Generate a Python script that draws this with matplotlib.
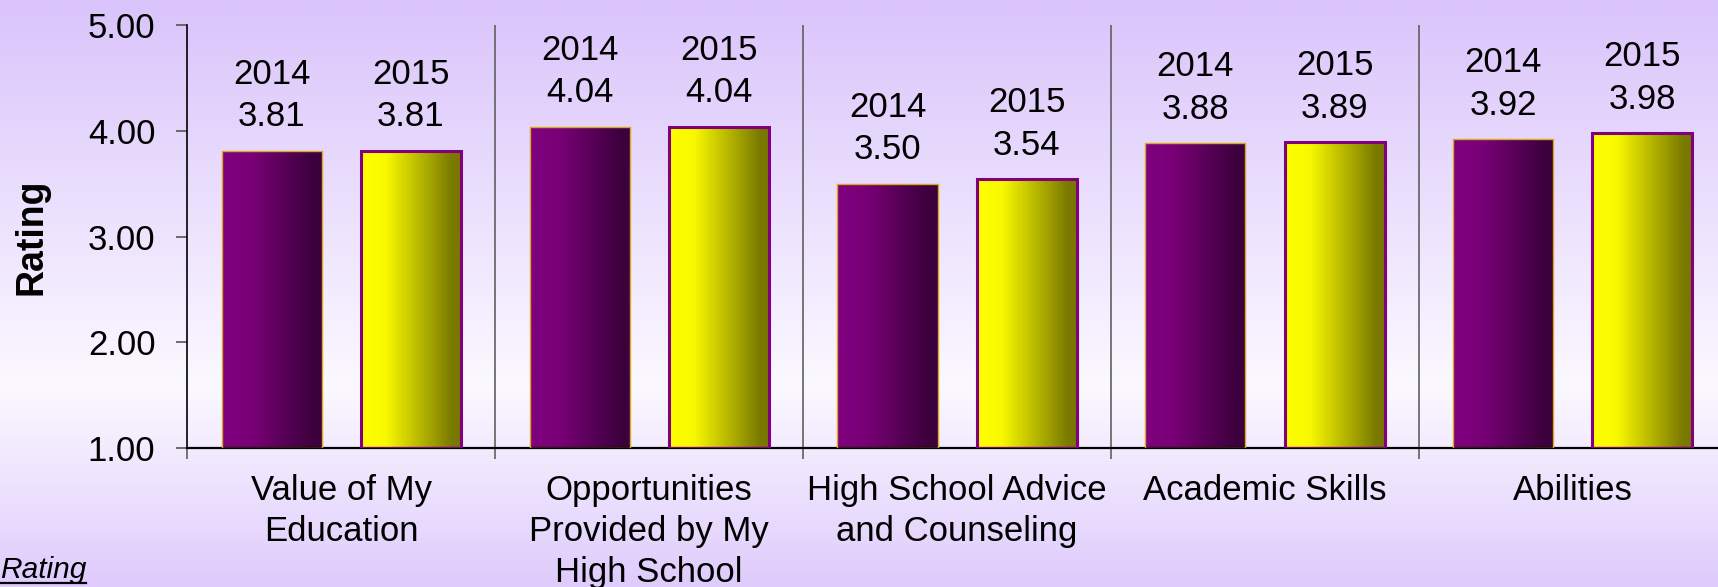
import numpy as np
import matplotlib.pyplot as plt
from matplotlib.colors import LinearSegmentedColormap
from matplotlib.lines import Line2D

plt.rcParams['font.family'] = ['Liberation Sans', 'DejaVu Sans']

# data
categories = ['Value of My\nEducation', 'Opportunities\nProvided by My\nHigh School',
              'High School Advice\nand Counseling', 'Academic Skills', 'Abilities']
years = ['2014', '2015']
rating_2014 = [3.81, 4.04, 3.50, 3.88, 3.92]
rating_2015 = [3.81, 4.04, 3.54, 3.89, 3.98]
y_ticks = [1.0, 2.0, 3.0, 4.0, 5.0]

fig = plt.figure(figsize=(17.18, 5.87), dpi=100)

# lavender page background
bg = fig.add_axes([0, 0, 1, 1], zorder=-1)
bg_cmap = LinearSegmentedColormap.from_list(
    'bg', [(0.0, '#dac4fb'), (0.66, '#fbf9ff'), (1.0, '#dfcbfc')])
bg.imshow(np.linspace(0, 1, 256).reshape(-1, 1), cmap=bg_cmap, aspect='auto',
          extent=[0, 1, 0, 1], origin='upper')
bg.axis('off')

ax = fig.add_axes([0.1091, 0.2368, 0.896, 0.7206])
ax.set_facecolor('none')

purple_cmap = LinearSegmentedColormap.from_list(
    'pur', [(0.0, '#800080'), (0.3, '#780076'), (0.9, '#3d003d'), (1.0, '#3c003c')])
yellow_cmap = LinearSegmentedColormap.from_list(
    'yel', [(0.0, '#ffff00'), (0.25, '#f8f800'), (0.9, '#7a7a00'), (1.0, '#787800')])
grad = np.linspace(0, 1, 256).reshape(1, -1)

x = np.arange(len(categories))
width = 0.325
offset = 0.226
fs = 25

series = [(rating_2014, -offset, purple_cmap, '#d8a820', 1.0),
          (rating_2015, offset, yellow_cmap, '#800080', 2.2)]

for (vals, off, cmap, edge, lw), year in zip(series, years):
    bars = ax.bar(x + off, np.array(vals) - 1.0, width, bottom=1.0,
                  facecolor='none', edgecolor=edge, linewidth=lw, zorder=3)
    for b, v in zip(bars, vals):
        x0 = b.get_x()
        im = ax.imshow(grad, cmap=cmap, aspect='auto', zorder=2,
                       extent=[x0, x0 + b.get_width(), 1.0, v])
        im.set_clip_path(b)
        ax.annotate(f'{year}\n{v:.2f}', (b.get_x() + b.get_width() / 2, v),
                    xytext=(0, 12.5), textcoords='offset points',
                    ha='center', va='bottom', fontsize=fs, linespacing=1.37)

ax.set_xlim(-0.5, len(categories) - 0.5)
ax.set_ylim(1.0, 5.0)

# group separators
for sep in np.arange(0.5, len(categories) - 0.5, 1.0):
    ax.axvline(sep, color='#606060', linewidth=1.2, zorder=1)

ax.set_yticks(y_ticks)
ax.set_yticklabels([f'{t:.2f}' for t in y_ticks], fontsize=fs)
ax.tick_params(axis='y', direction='out', length=8, width=1.2, color='#555555', pad=15)

ax.set_xticks(np.arange(-0.5, len(categories), 1.0))
ax.set_xticklabels([])
ax.tick_params(axis='x', which='major', direction='out', length=8, width=1.2, color='#606060')
ax.set_xticks(x, minor=True)
ax.set_xticklabels(categories, minor=True, fontsize=fs, linespacing=1.3)
ax.tick_params(axis='x', which='minor', length=0, pad=19)

for s in ['top', 'right']:
    ax.spines[s].set_visible(False)
ax.spines['left'].set_linewidth(1.2)
ax.spines['bottom'].set_linewidth(1.6)

# rotated axis title
fig.text(32, 587 - 236.5, 'Rating', transform=None, fontsize=27, fontweight='bold',
         rotation=90, ha='center', va='center')

# underlined footnote in the corner
note = fig.text(0.0, 587 - 578, 'Rating', transform=None, fontsize=21.5,
                style='italic', ha='left', va='baseline')
fig.canvas.draw()
bb = note.get_window_extent()
fig.add_artist(Line2D([bb.x0, bb.x1], [4.0, 4.0], transform=None,
                      color='black', linewidth=1.6))

fig.savefig('out.png', dpi=100)
